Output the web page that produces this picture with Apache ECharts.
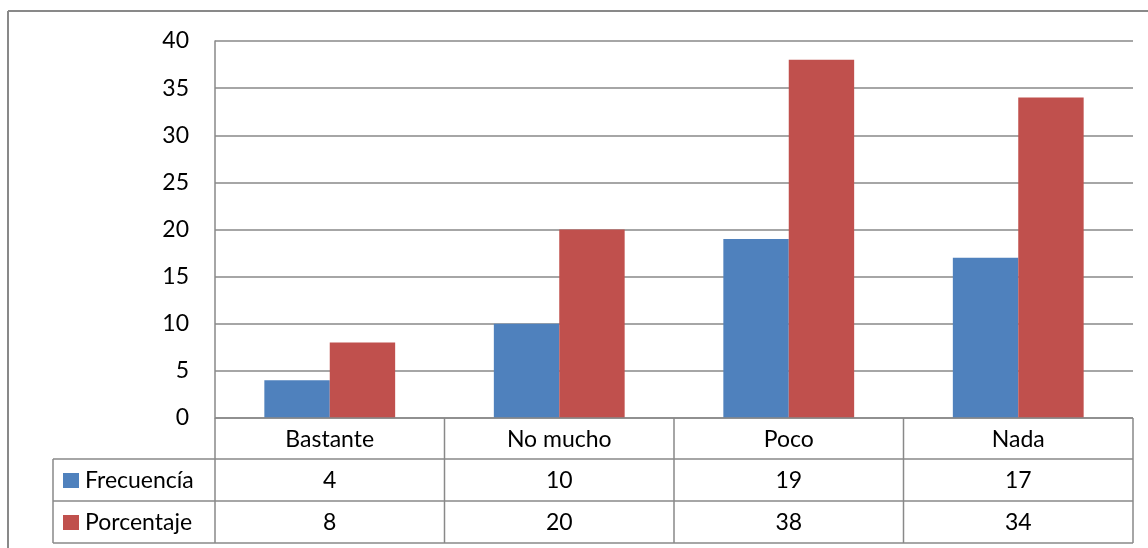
<!DOCTYPE html>
<html>
<head>
<meta charset="utf-8">
<script src="https://cdn.jsdelivr.net/npm/echarts@6/dist/echarts.min.js"></script>
<style>
  html,body{margin:0;padding:0;background:#fff;}
  #chart{width:1148px;height:548px;}
</style>
</head>
<body>
<div id="chart"></div>
<script>
var categories = ['Bastante', 'No mucho', 'Poco', 'Nada'];
var frecuencia = [4, 10, 19, 17];
var porcentaje = [8, 20, 38, 34];
var seriesNames = ['Frecuencía', 'Porcentaje'];
var colors = ['#4F81BD', '#C0504D'];

var FONT = 'Lato';
var FS = 23;
var lineCol = '#898989';

// layout of plot and data table
var G = {left: 215, top: 41, right: 1133, bottom: 418};
var rows = [418, 459, 501, 543];
var tableLeft = 53;

var myChart = echarts.init(document.getElementById('chart'));

var option = {
    animation: false,
    backgroundColor: '#fff',
    grid: {left: G.left, top: G.top, width: G.right - G.left, height: G.bottom - G.top},
    xAxis: {
        type: 'category',
        data: categories,
        axisLine: {show: false},
        axisTick: {show: false},
        axisLabel: {show: false}
    },
    yAxis: {
        type: 'value',
        min: 0,
        max: 40,
        interval: 5,
        axisLine: {show: true, lineStyle: {color: lineCol, width: 1.5}},
        axisTick: {show: false},
        axisLabel: {margin: 26, color: '#000', fontFamily: FONT, fontSize: FS},
        splitLine: {show: true, lineStyle: {color: lineCol, width: 1.5}}
    },
    series: [
        {name: seriesNames[0], type: 'bar', data: frecuencia, barGap: '0%', barCategoryGap: '43%',
         itemStyle: {color: colors[0]}},
        {name: seriesNames[1], type: 'bar', data: porcentaje, barGap: '0%', barCategoryGap: '43%',
         itemStyle: {color: colors[1]}}
    ]
};
myChart.setOption(option);

// data table under the plot
var els = [];
function line(x1, y1, x2, y2, w) {
    els.push({type: 'line', shape: {x1: x1, y1: y1, x2: x2, y2: y2},
        style: {stroke: lineCol, lineWidth: w || 1.5}, z: 10});
}
function text(x, y, s, align) {
    els.push({type: 'text', x: x, y: y, z: 11,
        style: {text: s, fill: '#000', font: FS + 'px ' + FONT, align: align || 'center', verticalAlign: 'middle'}});
}
// outer frame (top and left only)
line(8, 11, 1148, 11, 2);
line(8, 11, 8, 548, 2);

var colW = (G.right - G.left) / categories.length;
// column dividers
for (var i = 0; i <= categories.length; i++) {
    var x = G.left + colW * i;
    line(x, rows[0], x, rows[3]);
}
line(G.left, rows[0], G.right, rows[0]);
for (var r = 1; r < rows.length; r++) line(tableLeft, rows[r], G.right, rows[r]);
line(tableLeft, rows[1], tableLeft, rows[3]);

var vals = [frecuencia, porcentaje];
for (var i = 0; i < categories.length; i++) {
    var cx = myChart.convertToPixel({xAxisIndex: 0}, categories[i]);
    text(cx, (rows[0] + rows[1]) / 2 + 1, categories[i]);
    for (var s = 0; s < 2; s++) {
        text(cx, (rows[s + 1] + rows[s + 2]) / 2 + 1, String(vals[s][i]));
    }
}
for (var s = 0; s < 2; s++) {
    var cy = (rows[s + 1] + rows[s + 2]) / 2;
    els.push({type: 'rect', shape: {x: 63, y: cy - 7, width: 16, height: 15}, style: {fill: colors[s]}, z: 11});
    text(85, cy + 1, seriesNames[s], 'left');
}
myChart.setOption({graphic: els});
</script>
</body>
</html>
